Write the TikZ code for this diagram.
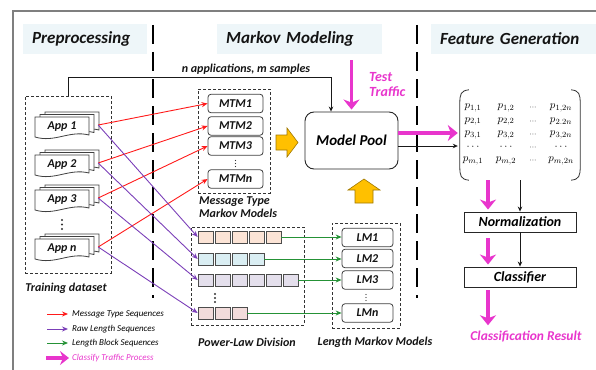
\documentclass[tikz,border=0pt]{standalone}
\usepackage{fontspec}
\setmainfont{Carlito}
\usetikzlibrary{arrows.meta,calc}

\definecolor{msgred}{HTML}{FF1A1A}
\definecolor{rawpurple}{HTML}{7B3FB8}
\definecolor{blkgreen}{HTML}{259236}
\definecolor{procmag}{HTML}{E835CC}
\definecolor{hdrbg}{HTML}{EEF6F9}
\definecolor{framegray}{HTML}{7F7F7F}
\definecolor{blockyel}{HTML}{FFC000}
\definecolor{blockedge}{HTML}{A07800}
\definecolor{sqpeach}{HTML}{FCE4D6}
\definecolor{sqblue}{HTML}{DAEEF3}
\definecolor{sqlav}{HTML}{E4DFEC}
\definecolor{sqpink}{HTML}{F2DCDB}

\newcommand{\bifont}[2]{\bfseries\itshape\fontsize{#1}{#2}\selectfont}

\begin{document}
\begin{tikzpicture}[x=1pt,y=-1pt,
  lbl/.style={font=\bifont{12}{14}, text=black!92, inner sep=1pt},
  hdr/.style={fill=hdrbg, minimum height=30pt, inner xsep=9pt, inner ysep=0pt,
              align=left, anchor=west, font=\bifont{17}{20}, text=black!92},
  mbox/.style={draw=black!75, line width=0.8pt, rounded corners=3pt, fill=white,
               minimum width=55pt, minimum height=18.5pt, inner sep=0pt, lbl},
  lmbox/.style={mbox, minimum width=51pt},
  grp/.style={draw=black!80, line width=0.7pt, dash pattern=on 3pt off 2pt,
              inner sep=0pt},
  sq/.style={draw=black!70, line width=0.7pt, minimum width=15pt,
             minimum height=12pt, inner sep=0pt},
  stagebox/.style={draw=black!85, line width=0.9pt, minimum width=112pt,
                   minimum height=20pt, inner sep=0pt, font=\bifont{14}{16}},
  divider/.style={line width=2.6pt, dash pattern=on 19pt off 8pt},
  docline/.style={draw=black!75, fill=white, line width=0.8pt},
  dotmark/.style={fill=black!80},
  redarr/.style={draw=msgred, line width=0.9pt, -{Stealth[length=6pt,width=5pt]}},
  purarr/.style={draw=rawpurple, line width=0.9pt, -{Stealth[length=6pt,width=5pt]}},
  grnarr/.style={draw=blkgreen, line width=0.9pt, -{Stealth[length=6pt,width=5pt]}},
  blkarr/.style={draw=black!90, line width=0.8pt, -{Stealth[length=5pt,width=4.5pt]}},
  magarr/.style={draw=procmag, line width=3.5pt,
                 -{Stealth[length=10pt,width=16pt,inset=3pt]}},
  legtext/.style={font=\itshape\fontsize{9}{10}\selectfont, text=black,
                  anchor=west, inner sep=1pt},
  blockarrow/.style={fill=blockyel, draw=blockedge, line width=0.6pt},
  paren/.style={draw=black!80, line width=0.8pt},
  entry/.style={inner sep=0pt, font=\fontsize{11}{12}\selectfont}
]
\useasboundingbox (0,0) rectangle (596,369);

% outer frame
\draw[framegray, line width=1.2pt] (13,380) -- (13,11) -- (610,11);

% stage headers
\node[hdr, text width=106pt] (hdrpre) at (23,39) {Preprocessing};
\node[hdr, text width=147pt] (hdrmm)  at (217,39) {Markov Modeling};
\node[hdr, text width=151pt] (hdrfg)  at (431,39) {Feature Generation};

% stage dividers
\draw[divider] (153,25) -- (153,298);
\draw[divider] (417,25) -- (417,298);

% ---------- preprocessing ----------
\node[grp, minimum width=86pt, minimum height=177pt] (train) at (68,184.5) {};
\node[lbl] (trainlbl) at (66,288) {Training dataset};

\foreach \nm/\yc/\txt in {1/127/App 1, 2/165/App 2, 3/200/App 3, n/249/App n} {
  \foreach \k in {2,1,0} {
    \pgfmathsetmacro{\xa}{35+5*\k}
    \pgfmathsetmacro{\xb}{89+5*\k}
    \pgfmathsetmacro{\yt}{\yc-10-2.5*\k}
    \pgfmathsetmacro{\yb}{\yc+9-2.5*\k}
    \path[docline] (\xa,\yt) -- (\xb,\yt) -- (\xb,\yb-1)
      .. controls (\xb-20,\yb-6) and (\xa+20,\yb+7) .. (\xa,\yb+1) -- cycle;
  }
  \node[lbl, minimum width=54pt, minimum height=20pt, inner sep=0pt] (app\nm) at (62,\yc) {\txt};
  \coordinate (app\nm-out) at ($(app\nm.east)+(9,-2)$);
}
\foreach \yy in {220,224.5,229} \fill[dotmark] (62,\yy) circle (1.2pt);

% ---------- message type Markov models ----------
\node[grp, minimum width=72pt, minimum height=104pt] (mtmbox) at (234,141) {};
\node[mbox] (mtm1) at (235.5,103.5) {MTM1};
\node[mbox] (mtm2) at (235.5,126) {MTM2};
\node[mbox] (mtm3) at (235.5,146) {MTM3};
\node[mbox] (mtmn) at (235.5,179) {MTMn};
\foreach \yy in {160.5,163.5,166.5} \fill[dotmark] (235.5,\yy) circle (0.55pt);
\node[lbl, font=\bifont{12}{13}, align=left, anchor=north west] (mtmlbl) at (198,196)
  {Message Type\\Markov Models};

% ---------- power-law division ----------
\node[grp, minimum width=113pt, minimum height=98pt] (plbox) at (247.5,276) {};
\foreach \r/\n/\yc/\col in {1/5/237/sqpeach, 2/4/259/sqblue, 3/6/280/sqlav, 4/3/313/sqpink} {
  \foreach \i in {1,...,\n} {
    \node[sq, fill=\col] (r\r-\i) at ({205.5+17*(\i-1)},\yc) {};
  }
}
\foreach \yy in {294,298,302} \fill[dotmark] (215,\yy) circle (1.1pt);
\node[lbl] (pllbl) at (247,342) {Power-Law Division};

% ---------- length Markov models ----------
\node[grp, minimum width=68pt, minimum height=105pt] (lmbox) at (366,275.5) {};
\node[lmbox] (lm1) at (367.5,237.5) {LM1};
\node[lmbox] (lm2) at (367.5,258.5) {LM2};
\node[lmbox] (lm3) at (367.5,280) {LM3};
\node[lmbox] (lmn) at (367.5,313) {LMn};
\foreach \yy in {294.5,297.5,300.5} \fill[dotmark] (366,\yy) circle (0.55pt);
\node[lbl] (lmlbl) at (375,342) {Length Markov Models};

% sequences from the training apps
\draw[redarr] (app1-out) -- (mtm1.west);
\draw[redarr] (app2-out) -- (mtm2.west);
\draw[redarr] (app3-out) -- (mtm3.west);
\draw[redarr] (appn-out) -- (mtmn.west);
\draw[purarr] (app1-out) -- (r1-1.west);
\draw[purarr] (app2-out) -- (r2-1.west);
\draw[purarr] (app3-out) -- (r3-1.west);
\draw[purarr] (appn-out) -- (r4-1.west);
\draw[grnarr] (r1-5.east) -- (r1-5.east -| lm1.west);
\draw[grnarr] (r2-4.east) -- (r2-4.east -| lm2.west);
\draw[grnarr] (r3-6.east) -- (r3-6.east -| lm3.west);
\draw[grnarr] (r4-3.east) -- (r4-3.east -| lmn.west);

% ---------- model pool ----------
\node[draw=black!85, line width=0.9pt, rounded corners=9pt, minimum width=93pt,
      minimum height=57pt, font=\bifont{15}{17}] (pool) at (351.5,140.5) {Model Pool};

\draw[blkarr] (train.north) -- ++(0,-18) -| ([xshift=-20.5pt]pool.north);
\node[lbl] (nappl) at (246,69) {n applications, m samples};

\coordinate (testsrc) at (351.5,60);
\draw[magarr] (testsrc) -- ([yshift=2pt]pool.north);
\node[font=\bifont{14}{15}, text=procmag, align=left, anchor=west, inner sep=0pt]
  (testlbl) at (369,84.5) {Test\\Traffic};

% block arrows feeding the pool
\path[blockarrow] (276,135) -- (287,135) -- (287,128) -- (298,142.5) -- (287,157)
  -- (287,150) -- (276,150) -- cycle;
\path[blockarrow] (355,203) -- (355,190) -- (348,190) -- (364,179) -- (380,190)
  -- (373,190) -- (373,203) -- cycle;

% ---------- feature generation ----------
\node[minimum width=120pt, minimum height=90pt, inner sep=0pt] (feat) at (520,135) {};
\draw[paren] ($(feat.north west)+(9,0)$)
  .. controls ($(feat.north west)+(1,1)$) and ($(feat.north west)+(0,4)$) .. ($(feat.north west)+(0,14)$)
  -- ($(feat.south west)+(0,-14)$)
  .. controls ($(feat.south west)+(0,-4)$) and ($(feat.south west)+(1,-1)$) .. ($(feat.south west)+(9,0)$);
\draw[paren] ($(feat.north east)+(-9,0)$)
  .. controls ($(feat.north east)+(-1,1)$) and ($(feat.north east)+(0,4)$) .. ($(feat.north east)+(0,14)$)
  -- ($(feat.south east)+(0,-14)$)
  .. controls ($(feat.south east)+(0,-4)$) and ($(feat.south east)+(-1,-1)$) .. ($(feat.south east)+(-9,0)$);
\foreach \r/\yy/\ea/\eb/\ec/\ed in {
    1/108/p_{1,1}/p_{1,2}/\cdots/p_{1,2n},
    2/121.5/p_{2,1}/p_{2,2}/\cdots/p_{2.2n},
    3/135/p_{3,1}/p_{3,2}/\cdots/p_{3,2n},
    4/147.5/\cdots/\cdots/\cdots/\cdots,
    5/161/p_{m,1}/p_{m,2}/\cdots/p_{m,2n}} {
  \node[entry] (e\r-1) at (473,\yy) {$\ea$};
  \node[entry] (e\r-2) at (506,\yy) {$\eb$};
  \node[entry] (e\r-3) at (533,\yy) {$\scriptstyle\ec$};
  \node[entry] (e\r-4) at (561,\yy) {$\ed$};
}

\draw[magarr] ([yshift=7.5pt]pool.east) -- ([xshift=-2pt,yshift=7.5pt]pool.east -| feat.west);
\draw[blkarr] ([yshift=-5.5pt]pool.east) -- ([xshift=-2pt,yshift=-5.5pt]pool.east -| feat.west);

\node[stagebox] (norm) at (520,222) {Normalization};
\node[stagebox] (clf) at (520,277) {Classifier};
\node[font=\bifont{13.5}{15}, text=procmag, inner sep=1pt] (result) at (526,337) {Classification Result};

\draw[magarr] ([xshift=-32pt]feat.south) -- ([xshift=-32pt,yshift=2pt]feat.south |- norm.north);
\draw[blkarr] (feat.south) -- (norm.north);
\draw[magarr] ([xshift=-32pt,yshift=-6pt]norm.south) -- ([xshift=-32pt,yshift=2pt]clf.north);
\draw[blkarr] (norm.south) -- (clf.north);
\draw[magarr] ([xshift=-32pt,yshift=-3pt]clf.south) -- ([xshift=-32pt,yshift=5pt]clf.south |- result.north);

% ---------- legend ----------
\coordinate (lg1a) at (47,314); \coordinate (lg1b) at (68,314);
\coordinate (lg2a) at (47,329); \coordinate (lg2b) at (68,329);
\coordinate (lg3a) at (47,343); \coordinate (lg3b) at (68,343);
\coordinate (lg4a) at (46,358); \coordinate (lg4b) at (69,358);
\draw[redarr] (lg1a) -- (lg1b);
\draw[purarr] (lg2a) -- (lg2b);
\draw[grnarr] (lg3a) -- (lg3b);
\draw[magarr, -{Stealth[length=9pt,width=14pt,inset=3pt]}] (lg4a) -- (lg4b);
\node[legtext] (lg1t) at (71,314) {Message Type Sequences};
\node[legtext] (lg2t) at (71,329) {Raw Length Sequences};
\node[legtext] (lg3t) at (71,343) {Length Block Sequences};
\node[legtext, text=procmag] (lg4t) at (71,358) {Classify Traffic Process};
\end{tikzpicture}
\end{document}
